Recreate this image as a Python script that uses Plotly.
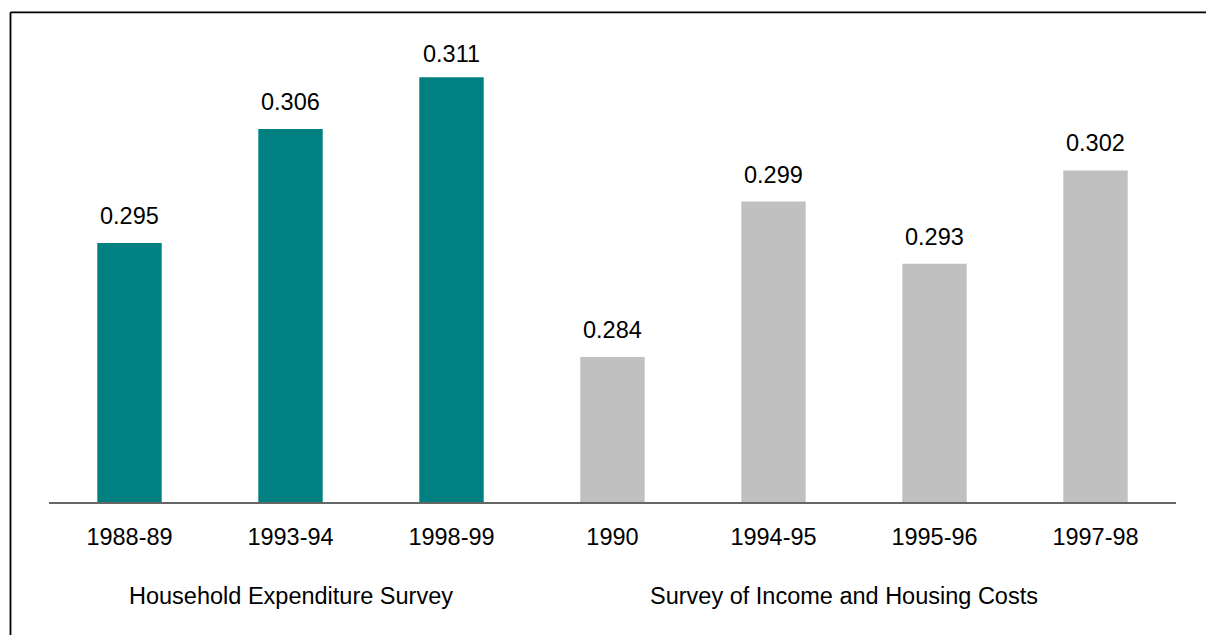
import plotly.graph_objects as go

categories = ["1988-89", "1993-94", "1998-99", "1990", "1994-95", "1995-96", "1997-98"]
values = [0.295, 0.306, 0.311, 0.284, 0.299, 0.293, 0.302]
value_labels = ["0.295", "0.306", "0.311", "0.284", "0.299", "0.293", "0.302"]
groups = ["HES", "HES", "HES", "SIHC", "SIHC", "SIHC", "SIHC"]
group_names = {"HES": "Household Expenditure Survey", "SIHC": "Survey of Income and Housing Costs"}
group_colors = {"HES": "#008080", "SIHC": "#C0C0C0"}

FONT = "Liberation Sans, Arial, sans-serif"
FS = 23.5

L, R, T, B = 49, 30, 30, 133
W, H = 1206, 635
pw = W - L - R
ph = H - T - B
YMIN, YMAX = 0.27, 0.31556

x_idx = list(range(len(categories)))

fig = go.Figure()
fig.add_trace(go.Bar(
    x=x_idx,
    y=values,
    marker=dict(color=[group_colors[g] for g in groups], line=dict(width=0)),
    width=0.4,
    hoverinfo="skip",
))

annotations = []
for i, (v, lab) in enumerate(zip(values, value_labels)):
    # keep label inside the plot area: it may not rise above 24px below the top edge
    bar_from_top = (YMAX - v) / (YMAX - YMIN) * ph
    shift = min(27, bar_from_top - 24)
    annotations.append(dict(
        x=i, y=v, xref="x", yref="y", text=lab, showarrow=False,
        yanchor="middle", yshift=shift, font=dict(family=FONT, size=FS, color="#000000"),
    ))

# group labels centred under their categories
for g, xshift in (("HES", 0), ("SIHC", -10)):
    idx = [i for i, gg in enumerate(groups) if gg == g]
    center = (idx[0] + idx[-1]) / 2
    annotations.append(dict(
        x=center, y=0, xref="x", yref="paper", text=group_names[g], showarrow=False,
        yanchor="middle", yshift=-94, xshift=xshift,
        font=dict(family=FONT, size=FS, color="#000000"),
    ))


def px(xp):
    return (xp - L) / pw


def py(yp):
    return (H - B - yp) / ph


shapes = [
    dict(type="line", xref="paper", yref="paper", x0=px(10.5), x1=px(1210), y0=py(12.3), y1=py(12.3),
         line=dict(color="#000000", width=1.8)),
    dict(type="line", xref="paper", yref="paper", x0=px(10.5), x1=px(10.5), y0=py(12.3), y1=py(640),
         line=dict(color="#000000", width=1.8)),
]

fig.update_layout(
    width=W, height=H,
    margin=dict(l=L, r=R, t=T, b=B, pad=0),
    paper_bgcolor="#FFFFFF",
    plot_bgcolor="#FFFFFF",
    showlegend=False,
    bargap=0.6,
    annotations=annotations,
    shapes=shapes,
    xaxis=dict(
        tickmode="array", tickvals=x_idx, ticktext=categories,
        range=[-0.5, len(categories) - 0.5],
        showgrid=False, zeroline=False,
        showline=True, linecolor="#666666", linewidth=1.5,
        ticks="", ticklabelstandoff=13,
        tickfont=dict(family=FONT, size=FS, color="#000000"),
        fixedrange=True,
    ),
    yaxis=dict(
        range=[YMIN, YMAX],
        showgrid=False, zeroline=False, showline=False,
        showticklabels=False, ticks="", fixedrange=True,
    ),
)

fig.write_html(
    "out.html",
    config={"displayModeBar": False},
    post_script="document.body.style.margin='0';document.body.style.overflow='hidden';",
)
